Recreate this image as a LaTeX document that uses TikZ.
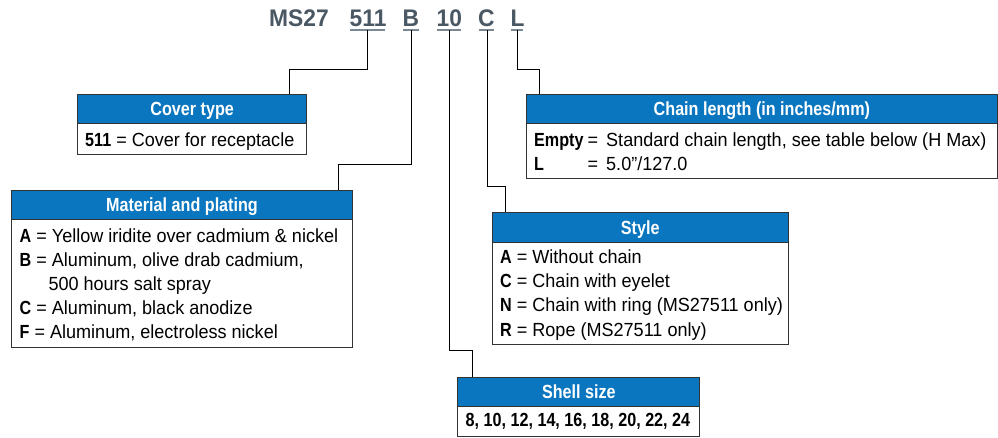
\documentclass[tikz,border=0pt]{standalone}
\usepackage{fontspec}
\setmainfont[FakeStretch=0.95]{Liberation Sans}
\newfontfamily\condfont[FakeStretch=0.85]{Liberation Sans}
\newcommand{\cbf}[1]{{\condfont\bfseries #1}}
\definecolor{hdrblue}{HTML}{0A76BF}
\definecolor{titlecol}{HTML}{4A5864}
\definecolor{ulcol}{HTML}{7A8893}
\definecolor{bordercol}{HTML}{333333}
\begin{document}
\begin{tikzpicture}[x=1pt,y=-1pt,
  hdr/.style={draw=bordercol, fill=hdrblue, line width=1pt, anchor=north west, inner sep=0pt, text=white,
    font=\condfont\bfseries\fontsize{19}{21}\selectfont, text height=13.6pt, text depth=0pt},
  bodybox/.style={draw=bordercol, fill=white, line width=1pt, anchor=north west, inner sep=0pt},
  txt/.style={anchor=base west, inner sep=0pt, font=\fontsize{19}{23}\selectfont},
  ttl/.style={anchor=base west, inner sep=0pt, text=titlecol, font=\bfseries\fontsize{24}{28}\selectfont},
  uline/.style={draw=ulcol, line width=2pt},
  conn/.style={draw=black, line width=1pt}]
\useasboundingbox (0,0) rectangle (998,437);

% title
\node[ttl] (tms) at (269,26.7) {MS27};
\node[ttl] (t511) at (349.5,26.7) {511};
\node[ttl] (tb) at (402.5,26.7) {B};
\node[ttl] (t10) at (436.5,26.7) {10};
\node[ttl] (tc) at (477.8,26.7) {C};
\node[ttl] (tl) at (510.5,26.7) {L};
\coordinate (u511) at (367.7,30);
\coordinate (ub) at (411,30);
\coordinate (u10) at (449,30);
\coordinate (uc) at (487,30);
\coordinate (ul) at (517.7,30);
\draw[uline] (350,30) -- (385,30);
\draw[uline] (403,30) -- (418.5,30);
\draw[uline] (437,30) -- (461,30);
\draw[uline] (479,30) -- (493.5,30);
\draw[uline] (511,30) -- (523,30);

% Cover type
\node[bodybox, minimum width=228.7pt, minimum height=30.7pt] (coverbd) at (77.3,123.3) {};
\node[hdr, minimum width=228.7pt, minimum height=29.3pt] (coverhd) at (77.3,94) {Cover type};
\node[txt] (cover1) at (85,146) {\cbf{511} = Cover for receptacle};

% Material and plating
\node[bodybox, minimum width=341pt, minimum height=127.4pt] (matbd) at (11,219.3) {};
\node[hdr, minimum width=341pt, minimum height=29.3pt] (mathd) at (11,190) {Material and plating};
\node[txt] (mat1) at (19.5,242.3) {\cbf{A} = Yellow iridite over cadmium \& nickel};
\node[txt] (mat2) at (19.5,266.7) {\cbf{B} = Aluminum, olive drab cadmium,};
\node[txt] (mat3) at (48.3,290) {500 hours salt spray};
\node[txt] (mat4) at (19.5,314) {\cbf{C} = Aluminum, black anodize};
\node[txt] (mat5) at (19.5,338.3) {\cbf{F} = Aluminum, electroless nickel};

% Chain length
\node[bodybox, minimum width=471.3pt, minimum height=54.4pt] (chbd) at (525.7,123.3) {};
\node[hdr, minimum width=471.3pt, minimum height=29.3pt] (chhd) at (525.7,94) {Chain length (in inches/mm)};
\node[txt] (ch1a) at (534,146.7) {\cbf{Empty}};
\node[txt] (ch1b) at (587.5,146.7) {=};
\node[txt] (ch1c) at (606,146.7) {Standard chain length, see table below (H Max)};
\node[txt] (ch2a) at (534,170) {\cbf{L}};
\node[txt] (ch2b) at (587.5,170) {=};
\node[txt] (ch2c) at (606,170) {5.0"/127.0};

% Style
\node[bodybox, minimum width=296pt, minimum height=102.3pt] (stbd) at (491.7,241.7) {};
\node[hdr, minimum width=296pt, minimum height=30pt] (sthd) at (491.7,211.7) {Style};
\node[txt] (st1) at (500,263.3) {\cbf{A} = Without chain};
\node[txt] (st2) at (500,287.7) {\cbf{C} = Chain with eyelet};
\node[txt] (st3) at (500,311.7) {\cbf{N} = Chain with ring (MS27511 only)};
\node[txt] (st4) at (500,336) {\cbf{R} = Rope (MS27511 only)};

% Shell size
\node[bodybox, minimum width=242pt, minimum height=29.5pt] (shbd) at (457.3,406) {};
\node[hdr, minimum width=242pt, minimum height=29.3pt] (shhd) at (457.3,376.7) {Shell size};
\node[txt, font=\condfont\bfseries\fontsize{19}{23}\selectfont] (sh1) at (465.5,426.7) {8, 10, 12, 14, 16, 18, 20, 22, 24};

% connectors
\coordinate (m511) at (289,69);
\coordinate (mb) at (338,164);
\coordinate (m10) at (472,350.7);
\coordinate (mc) at (505.7,186);
\coordinate (ml) at (539,69);
\draw[conn] (u511) |- (m511) -- (m511 |- coverhd.north);
\draw[conn] (ub) |- (mb) -- (mb |- mathd.north);
\draw[conn] (u10) |- (m10) -- (m10 |- shhd.north);
\draw[conn] (uc) |- (mc) -- (mc |- sthd.north);
\draw[conn] (ul) |- (ml) -- (ml |- chhd.north);
\end{tikzpicture}
\end{document}
